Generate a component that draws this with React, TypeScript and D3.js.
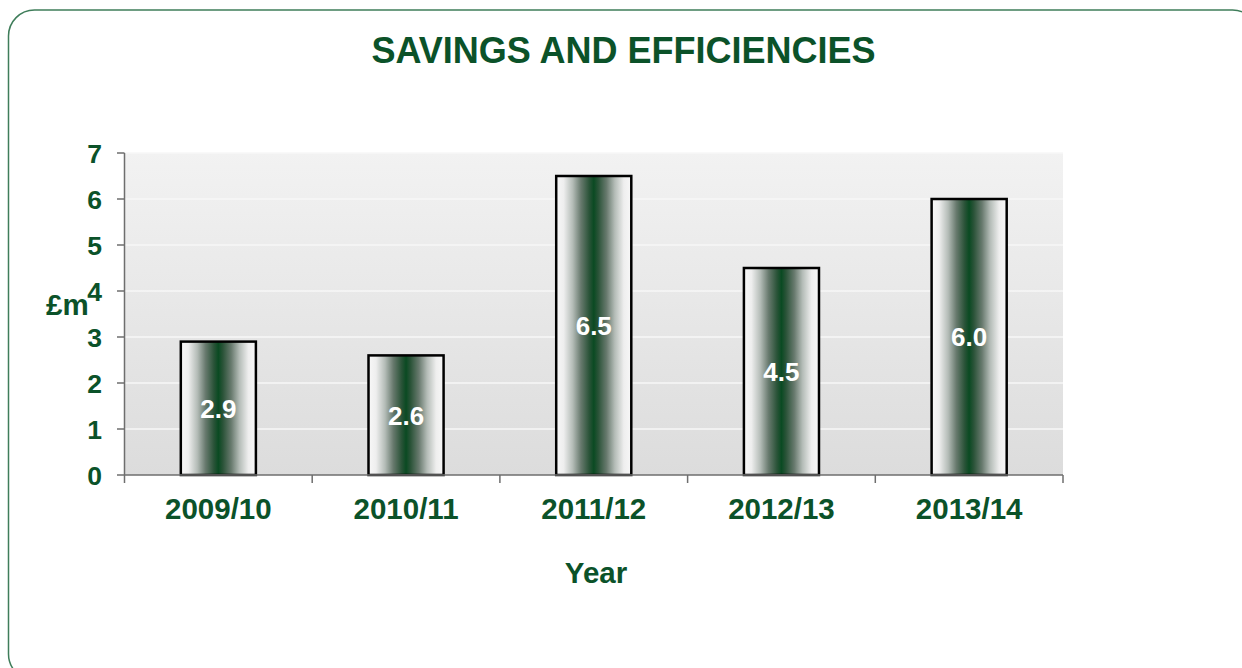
import React from "react";
import * as d3 from "d3";

const categories = ["2009/10", "2010/11", "2011/12", "2012/13", "2013/14"];
const values = [2.9, 2.6, 6.5, 4.5, 6.0];
const yTicks = [0, 1, 2, 3, 4, 5, 6, 7];
const title = "SAVINGS AND EFFICIENCIES";
const yTitle = "£m";
const xTitle = "Year";

const W = 1242;
const H = 668;
const M = { left: 124.5, right: 1063, top: 153, bottom: 475 };
const GREEN = "#0b5229";
const FONT = "'Liberation Sans', Arial, Helvetica, sans-serif";

export default function App() {
  const x = d3
    .scaleBand<string>()
    .domain(categories)
    .range([M.left, M.right])
    .paddingInner(0.6)
    .paddingOuter(0.3);
  const band = d3.scaleBand<string>().domain(categories).range([M.left, M.right]);
  const y = d3.scaleLinear().domain([0, 7]).range([M.bottom, M.top]);

  const bounds = d3.range(categories.length + 1).map((i) => M.left + i * band.step());

  return (
    <svg
      width={W}
      height={H}
      style={{ position: "absolute", left: 0, top: 0, fontFamily: FONT }}
    >
      <defs>
        <linearGradient id="plotBg" x1="0" y1="0" x2="0" y2="1">
          <stop offset="0%" stopColor="#f2f2f2" />
          <stop offset="100%" stopColor="#dcdcdc" />
        </linearGradient>
        <linearGradient id="barGrad" x1="0" y1="0" x2="1" y2="0">
          <stop offset="0%" stopColor="#f8f8f8" />
          <stop offset="10%" stopColor="#eeeeee" />
          <stop offset="22%" stopColor="#b4bcb7" />
          <stop offset="33%" stopColor="#67796d" />
          <stop offset="44%" stopColor="#2a5338" />
          <stop offset="50%" stopColor="#0a4a22" />
          <stop offset="56%" stopColor="#2a5338" />
          <stop offset="67%" stopColor="#67796d" />
          <stop offset="78%" stopColor="#b4bcb7" />
          <stop offset="90%" stopColor="#eeeeee" />
          <stop offset="100%" stopColor="#f8f8f8" />
        </linearGradient>
      </defs>

      <rect
        x={8.5}
        y={10}
        width={1250}
        height={670}
        rx={26}
        ry={26}
        fill="#ffffff"
        stroke="#3f7d5a"
        strokeWidth={1.5}
      />

      <text
        x={623.5}
        y={63}
        textAnchor="middle"
        fontSize={36}
        fontWeight="bold"
        fill={GREEN}
      >
        {title}
      </text>

      <rect
        x={M.left}
        y={M.top}
        width={M.right - M.left}
        height={M.bottom - M.top}
        fill="url(#plotBg)"
      />

      {yTicks
        .filter((t) => t > 0)
        .map((t) => (
          <line
            key={"g" + t}
            x1={M.left}
            x2={M.right}
            y1={y(t)}
            y2={y(t)}
            stroke="#f7f7f7"
            strokeWidth={1.5}
          />
        ))}

      {categories.map((c, i) => {
        const x0 = x(c)!;
        const y0 = y(values[i]);
        const h = y(0) - y0;
        return (
          <g key={c}>
            <rect
              x={x0}
              y={y0}
              width={x.bandwidth()}
              height={h}
              fill="url(#barGrad)"
              stroke="#000"
              strokeWidth={2.5}
            />
            <text
              x={x0 + x.bandwidth() / 2}
              y={y0 + h / 2}
              dy="0.36em"
              textAnchor="middle"
              fontSize={26}
              fontWeight="bold"
              fill="#ffffff"
            >
              {values[i].toFixed(1)}
            </text>
          </g>
        );
      })}

      <line x1={M.left} x2={M.left} y1={M.top} y2={M.bottom} stroke="#6e6e6e" strokeWidth={1.5} />
      <line x1={M.left} x2={M.right} y1={M.bottom} y2={M.bottom} stroke="#6e6e6e" strokeWidth={1.5} />

      {yTicks.map((t) => (
        <g key={"t" + t}>
          <line x1={M.left - 7.5} x2={M.left} y1={y(t)} y2={y(t)} stroke="#6e6e6e" strokeWidth={1.5} />
          <text
            x={102}
            y={y(t)}
            dy="0.36em"
            textAnchor="end"
            fontSize={26.5}
            fontWeight="bold"
            fill={GREEN}
          >
            {t}
          </text>
        </g>
      ))}

      {bounds.map((b, i) => (
        <line
          key={"b" + i}
          x1={b}
          x2={b}
          y1={M.bottom}
          y2={M.bottom + 8}
          stroke="#6e6e6e"
          strokeWidth={1.5}
        />
      ))}

      {categories.map((c) => (
        <text
          key={"l" + c}
          x={band(c)! + band.bandwidth() / 2}
          y={519}
          textAnchor="middle"
          fontSize={29.5}
          fontWeight="bold"
          fill={GREEN}
        >
          {c}
        </text>
      ))}

      <text x={46} y={315} fontSize={29.5} fontWeight="bold" fill={GREEN}>
        {yTitle}
      </text>
      <text x={596} y={583} textAnchor="middle" fontSize={29.5} fontWeight="bold" fill={GREEN}>
        {xTitle}
      </text>
    </svg>
  );
}
